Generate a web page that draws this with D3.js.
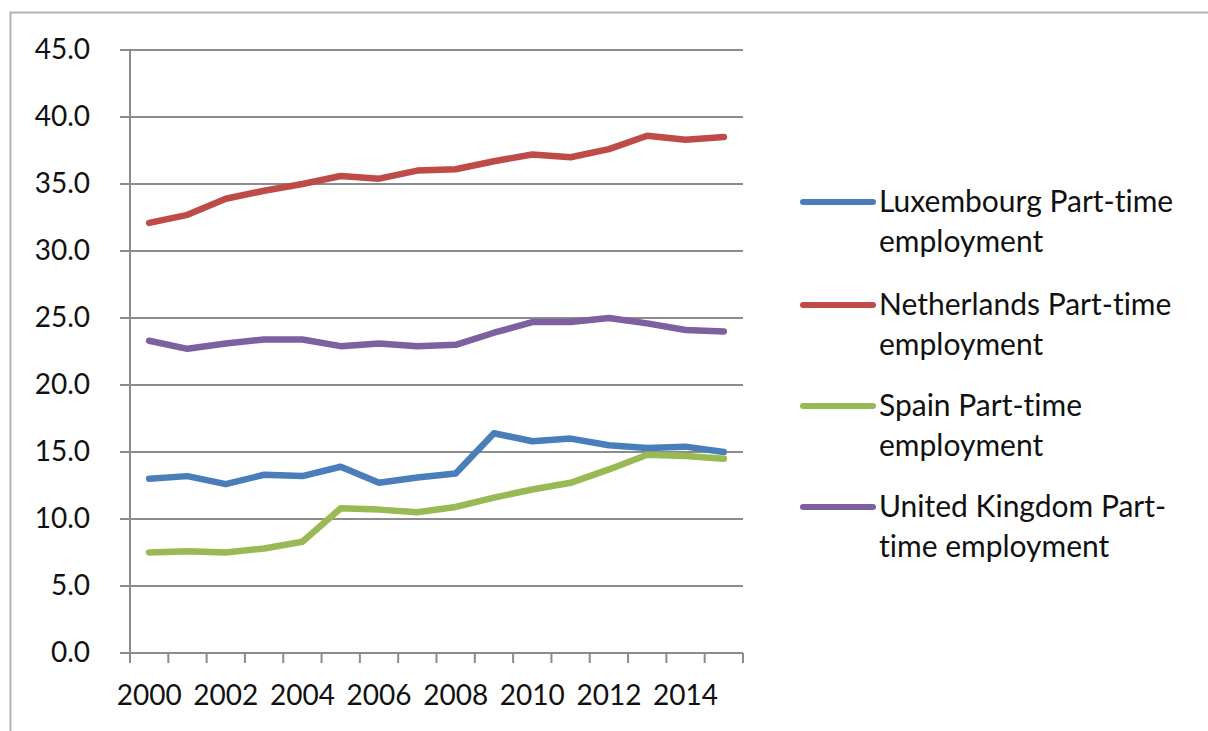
<!DOCTYPE html>
<html>
<head>
<meta charset="utf-8">
<script src="https://cdn.jsdelivr.net/npm/d3@7"></script>
<style>
  html, body { margin: 0; padding: 0; background: #fff; }
  svg { display: block; }
  text { font-family: Lato, "Open Sans", sans-serif; fill: #111; font-variant-ligatures: none; }
</style>
</head>
<body>
<svg id="chart" width="1208" height="731"></svg>
<script>
// Part-time employment (% of total employment), 2000-2015
const years = [2000, 2001, 2002, 2003, 2004, 2005, 2006, 2007,
               2008, 2009, 2010, 2011, 2012, 2013, 2014, 2015];
const yearLabels = [2000, 2002, 2004, 2006, 2008, 2010, 2012, 2014];
const yTicks = [0, 5, 10, 15, 20, 25, 30, 35, 40, 45];

const seriesNames = [
  ["Luxembourg Part-time", "employment"],
  ["Netherlands Part-time", "employment"],
  ["Spain Part-time", "employment"],
  ["United Kingdom Part-", "time employment"]
];
const seriesColors = ["#4a7ebb", "#be4b48", "#98b954", "#7d60a0"];

const luxembourg  = [13.0, 13.2, 12.6, 13.3, 13.2, 13.9, 12.7, 13.1,
                     13.4, 16.4, 15.8, 16.0, 15.5, 15.3, 15.4, 15.0];
const netherlands = [32.1, 32.7, 33.9, 34.5, 35.0, 35.6, 35.4, 36.0,
                     36.1, 36.7, 37.2, 37.0, 37.6, 38.6, 38.3, 38.5];
const spain       = [7.5, 7.6, 7.5, 7.8, 8.3, 10.8, 10.7, 10.5,
                     10.9, 11.6, 12.2, 12.7, 13.7, 14.8, 14.7, 14.5];
const uk          = [23.3, 22.7, 23.1, 23.4, 23.4, 22.9, 23.1, 22.9,
                     23.0, 23.9, 24.7, 24.7, 25.0, 24.6, 24.1, 24.0];

const seriesValues = [luxembourg, netherlands, spain, uk];

const svg = d3.select("#chart");
const gridColor = "#8c8c8c";

// chart frame
svg.append("path")
  .attr("d", "M10.5,731 L10.5,12.5 L1208,12.5")
  .attr("fill", "none")
  .attr("stroke", "#b3b3b3")
  .attr("stroke-width", 2);

const plot = { left: 130, right: 743, top: 50, bottom: 653 };

const x = d3.scaleBand()
  .domain(years)
  .range([plot.left, plot.right])
  .paddingInner(0).paddingOuter(0);

const y = d3.scaleLinear()
  .domain([0, 45])
  .range([plot.bottom, plot.top]);

// horizontal gridlines (with the small outward tick on the left)
svg.append("g")
  .selectAll("line")
  .data(yTicks)
  .join("line")
  .attr("x1", plot.left - 10)
  .attr("x2", plot.right)
  .attr("y1", d => y(d))
  .attr("y2", d => y(d))
  .attr("stroke", gridColor)
  .attr("stroke-width", 2);

// y axis labels
const yAxis = svg.append("g")
  .attr("transform", `translate(${plot.left},0)`)
  .call(d3.axisLeft(y).tickValues(yTicks).tickFormat(d3.format(".1f")).tickSize(10).tickPadding(30));
yAxis.select(".domain").remove();
yAxis.selectAll(".tick line").remove();
yAxis.selectAll("text")
  .style("font-family", "Lato, sans-serif")
  .style("font-size", "28px")
  .attr("fill", "#111");

// y axis line
svg.append("line")
  .attr("x1", plot.left).attr("x2", plot.left)
  .attr("y1", y(45)).attr("y2", y(0))
  .attr("stroke", gridColor)
  .attr("stroke-width", 2);

// x axis tick marks on category boundaries
const boundaries = years.map(d => x(d)).concat([x(years[years.length - 1]) + x.bandwidth()]);
svg.append("g")
  .selectAll("line")
  .data(boundaries)
  .join("line")
  .attr("x1", d => d).attr("x2", d => d)
  .attr("y1", y(0)).attr("y2", y(0) + 10)
  .attr("stroke", gridColor)
  .attr("stroke-width", 2);

// x axis labels
const xAxis = svg.append("g")
  .attr("transform", `translate(0,${y(0)})`)
  .call(d3.axisBottom(x).tickValues(yearLabels).tickSize(0).tickPadding(32));
xAxis.select(".domain").remove();
xAxis.selectAll("text")
  .style("font-family", "Lato, sans-serif")
  .style("font-size", "28px")
  .attr("fill", "#111");

// series lines
const line = d3.line()
  .x((d, i) => x(years[i]) + x.bandwidth() / 2)
  .y(d => y(d));

svg.append("g")
  .selectAll("path")
  .data(seriesValues)
  .join("path")
  .attr("d", d => line(d))
  .attr("fill", "none")
  .attr("stroke", (d, i) => seriesColors[i])
  .attr("stroke-width", 6.5)
  .attr("stroke-linejoin", "round")
  .attr("stroke-linecap", "round");

// legend
const legendY = [202, 305, 406, 507];
const legend = svg.append("g")
  .selectAll("g")
  .data(seriesNames)
  .join("g")
  .attr("transform", (d, i) => `translate(803,${legendY[i]})`);

legend.append("line")
  .attr("x1", 0).attr("x2", 70)
  .attr("y1", 0).attr("y2", 0)
  .attr("stroke", (d, i) => seriesColors[i])
  .attr("stroke-width", 6)
  .attr("stroke-linecap", "round");

legend.append("text")
  .attr("x", 76)
  .attr("y", 10)
  .style("font-size", "30px")
  .selectAll("tspan")
  .data(d => d)
  .join("tspan")
  .attr("x", 76)
  .attr("dy", (d, i) => i === 0 ? 0 : 40)
  .text(d => d);
</script>
</body>
</html>
